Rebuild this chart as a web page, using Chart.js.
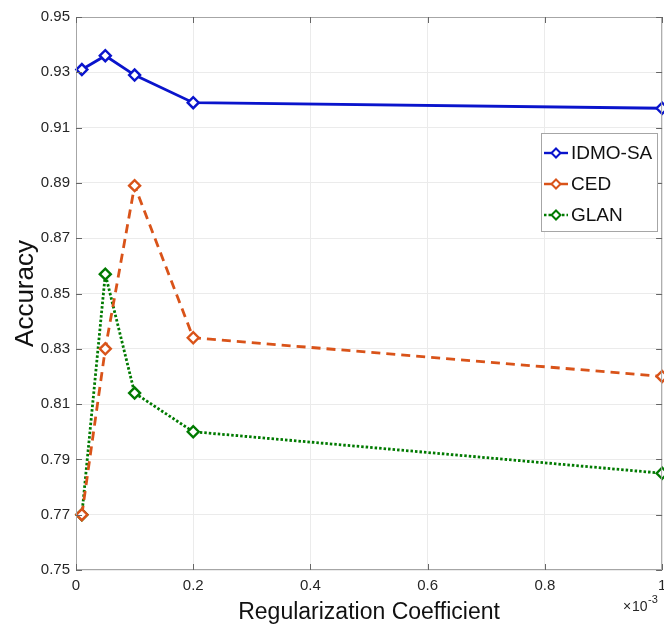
<!DOCTYPE html>
<html>
<head>
<meta charset="utf-8">
<script src="https://cdn.jsdelivr.net/npm/chart.js@4.4.1/dist/chart.umd.min.js"></script>
<style>
    html, body { margin: 0; padding: 0; background: #fff; overflow: hidden; }
    #wrap { width: 670px; height: 626px; }
</style>
</head>
<body>
<div id="wrap"><canvas id="chart"></canvas></div>
<script>
// data (x in units of 1e-3)
var xValues = [0.01, 0.05, 0.1, 0.2, 1];
var idmoValues = [0.931, 0.936, 0.929, 0.919, 0.917];
var cedValues = [0.770, 0.830, 0.889, 0.834, 0.820];
var glanValues = [0.770, 0.857, 0.814, 0.800, 0.785];
var seriesNames = ['IDMO-SA', 'CED', 'GLAN'];
var xTicks = [0, 0.2, 0.4, 0.6, 0.8, 1];
var yTicks = [0.75, 0.77, 0.79, 0.81, 0.83, 0.85, 0.87, 0.89, 0.91, 0.93, 0.95];

var FONT = '"Liberation Sans", Arial, sans-serif';
var AXIS_GREY = '#a6a6a6';

function toPoints(vals) {
    return vals.map(function (v, i) { return { x: xValues[i], y: v }; });
}

function makeSet(label, vals, color, dash) {
    return {
        label: label,
        data: toPoints(vals),
        borderColor: color,
        backgroundColor: '#fff',
        borderWidth: 2.8,
        borderDash: dash,
        pointStyle: 'rectRot',
        pointRadius: 5.5,
        pointBorderWidth: 2.4,
        pointBackgroundColor: '#fff',
        pointBorderColor: color,
        tension: 0,
        clip: false
    };
}

// box, inward ticks, legend, exponent label
var decor = {
    id: 'decor',
    afterDraw: function (chart) {
        var ctx = chart.ctx, a = chart.chartArea;
        var xs = chart.scales.x, ys = chart.scales.y;
        ctx.save();
        ctx.strokeStyle = AXIS_GREY;
        ctx.lineWidth = 1;
        ctx.strokeRect(a.left + 0.5, a.top + 0.5, a.right - a.left - 1, a.bottom - a.top - 1);
        ctx.strokeStyle = '#666';
        xTicks.forEach(function (t) {
            var px = Math.round(xs.getPixelForValue(t)) + 0.5;
            ctx.beginPath();
            ctx.moveTo(px, a.bottom); ctx.lineTo(px, a.bottom - 6);
            ctx.moveTo(px, a.top); ctx.lineTo(px, a.top + 6);
            ctx.stroke();
        });
        yTicks.forEach(function (t) {
            var py = Math.round(ys.getPixelForValue(t)) + 0.5;
            ctx.beginPath();
            ctx.moveTo(a.left, py); ctx.lineTo(a.left + 6, py);
            ctx.moveTo(a.right, py); ctx.lineTo(a.right - 6, py);
            ctx.stroke();
        });

        // legend box
        var lx = 541, ly = 133, lw = 116, lh = 98;
        ctx.fillStyle = '#fff';
        ctx.fillRect(lx, ly, lw, lh);
        ctx.strokeStyle = AXIS_GREY;
        ctx.strokeRect(lx + 0.5, ly + 0.5, lw, lh);
        ctx.font = '19px ' + FONT;
        ctx.textBaseline = 'middle';
        chart.data.datasets.forEach(function (ds, i) {
            var cy = ly + 20 + i * 31;
            ctx.strokeStyle = ds.borderColor;
            ctx.lineWidth = 2.4;
            ctx.setLineDash(ds.borderDash || []);
            ctx.beginPath();
            ctx.moveTo(lx + 3, cy); ctx.lineTo(lx + 27, cy);
            ctx.stroke();
            ctx.setLineDash([]);
            ctx.lineWidth = 2;
            ctx.fillStyle = '#fff';
            ctx.beginPath();
            ctx.moveTo(lx + 15, cy - 4.5); ctx.lineTo(lx + 19.5, cy);
            ctx.lineTo(lx + 15, cy + 4.5); ctx.lineTo(lx + 10.5, cy);
            ctx.closePath();
            ctx.fill(); ctx.stroke();
            ctx.fillStyle = '#111';
            ctx.fillText(ds.label, lx + 30, cy + 1);
        });

        // x10^-3 exponent
        ctx.fillStyle = '#262626';
        ctx.textBaseline = 'alphabetic';
        ctx.font = '14px ' + FONT;
        ctx.fillText('\u00d7', 623, 611);
        ctx.fillText('10', 632, 611);
        ctx.font = '11px ' + FONT;
        ctx.fillText('-3', 648, 603);
        ctx.restore();
    }
};

new Chart('chart', {
    type: 'line',
    data: {
        datasets: [
            makeSet(seriesNames[0], idmoValues, '#0a14cc', []),
            makeSet(seriesNames[1], cedValues, '#d95319', [9, 6]),
            makeSet(seriesNames[2], glanValues, '#007a00', [2.5, 2])
        ]
    },
    options: {
        responsive: true,
        maintainAspectRatio: false,
        animation: false,
        layout: { padding: { left: 10, right: 0, top: 17, bottom: 0 } },
        plugins: {
            legend: { display: false },
            tooltip: { enabled: false }
        },
        scales: {
            x: {
                type: 'linear',
                min: 0,
                max: 1,
                afterBuildTicks: function (s) { s.ticks = xTicks.map(function (v) { return { value: v }; }); },
                afterFit: function (s) { s.height = 56; s.paddingRight = 0; s.paddingLeft = 0; },
                grid: { color: '#ebebeb', drawTicks: false },
                border: { display: false },
                ticks: {
                    padding: 7,
                    color: '#262626',
                    font: { family: FONT, size: 15 },
                    maxRotation: 0,
                    callback: function (v) { return String(+v.toFixed(1)); }
                },
                title: {
                    display: true,
                    text: 'Regularization Coefficient',
                    color: '#111',
                    font: { family: FONT, size: 23 },
                    padding: { top: 2, bottom: 0 }
                }
            },
            y: {
                type: 'linear',
                min: 0.75,
                max: 0.95,
                afterBuildTicks: function (s) { s.ticks = yTicks.map(function (v) { return { value: v }; }); },
                afterFit: function (s) { s.width = 66; },
                grid: { color: '#ebebeb', drawTicks: false },
                border: { display: false },
                ticks: {
                    padding: 6,
                    color: '#262626',
                    font: { family: FONT, size: 15 },
                    callback: function (v) { return v.toFixed(2); }
                },
                title: {
                    display: true,
                    text: 'Accuracy',
                    color: '#111',
                    font: { family: FONT, size: 26 },
                    padding: { top: 0, bottom: 2 }
                }
            }
        }
    },
    plugins: [decor]
});
</script>
</body>
</html>
